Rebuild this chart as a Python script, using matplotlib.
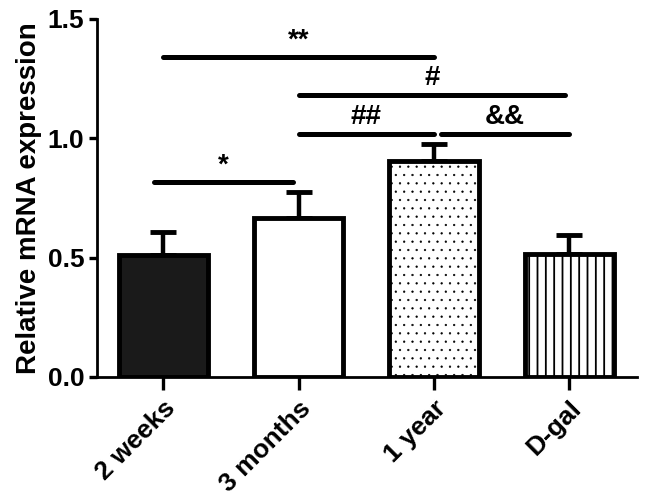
import matplotlib
matplotlib.use("Agg")
import matplotlib.pyplot as plt

# 데이터
groups = ["2 weeks", "3 months", "1 year", "D-gal"]
means = [0.51, 0.666, 0.905, 0.515]
sem = [0.097, 0.107, 0.072, 0.079]

# 유의성 표시 (시작, 끝, 높이, 기호)
sig_x1 = [0.0, 1.0, 1.0, 2.05, -0.07]
sig_x2 = [2.0, 2.97, 2.0, 3.0, 0.96]
sig_y = [1.341, 1.181, 1.018, 1.018, 0.817]
sig_text = ["**", "#", "##", "&&", "*"]

plt.rcParams['font.family'] = ['Liberation Sans', 'DejaVu Sans']
plt.rcParams['font.weight'] = 'bold'

fig = plt.figure(figsize=(6.46, 4.96), dpi=100)
ax = fig.add_axes([0.150, 0.240, 0.836, 0.722])

x = list(range(len(groups)))
faces = ["#1a1a1a", "white", "white", "white"]
hatches = [None, None, "..", "||"]
hatch_lw = [1.0, 1.0, 0.4, 1.3]
for i in x:
    plt.rcParams['hatch.linewidth'] = hatch_lw[i]
    ax.bar(i, means[i], width=0.66, color=faces[i], edgecolor="black",
           linewidth=3.5, hatch=hatches[i], zorder=2)
ax.errorbar(x, means, yerr=[[0] * 4, sem], fmt="none", ecolor="black",
            elinewidth=3.2, capsize=9.5, capthick=3.5, zorder=1)

for x1, x2, y, t in zip(sig_x1, sig_x2, sig_y, sig_text):
    ax.plot([x1, x2], [y, y], color="black", lw=3.6, solid_capstyle="round")
    ax.text((x1 + x2) / 2, y + 0.015, t, ha="center", va="bottom",
            fontsize=20, fontweight="bold")

ax.set_xlim(-0.49, 3.5)
ax.set_ylim(0, 1.5)
ax.set_yticks([0.0, 0.5, 1.0, 1.5])
ax.set_yticklabels(["0.0", "0.5", "1.0", "1.5"])
ax.set_xticks(x)
ax.set_xticklabels(groups, rotation=45, ha="right", rotation_mode="anchor")
ax.tick_params(axis="both", labelsize=19, width=2.4, direction="out")
ax.tick_params(axis="y", length=6, pad=3)
ax.tick_params(axis="x", length=9, pad=5)
ax.spines["top"].set_visible(False)
ax.spines["right"].set_visible(False)
ax.spines["left"].set_linewidth(2)
ax.spines["bottom"].set_linewidth(2)
ax.set_ylabel("Relative mRNA expression", fontsize=20, fontweight="bold", labelpad=4)

fig.savefig("out.png", dpi=100)
